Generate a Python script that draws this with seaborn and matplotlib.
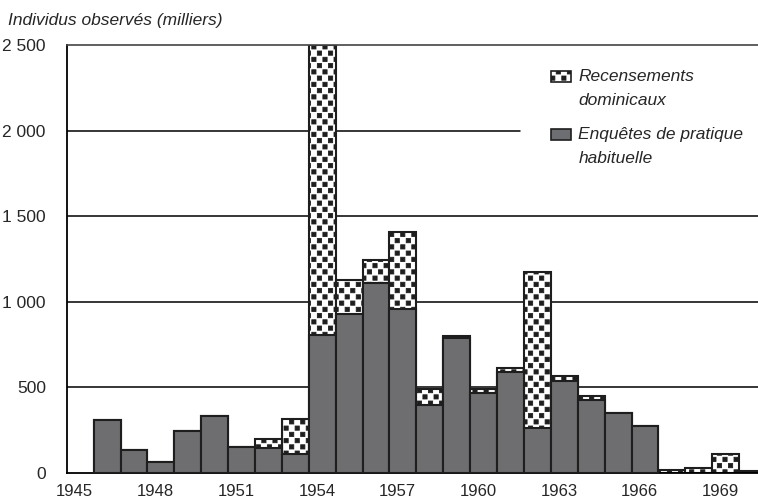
import matplotlib
matplotlib.use("Agg")
import numpy as np
import matplotlib.pyplot as plt
import matplotlib.patches as mpatches
from matplotlib import hatch as mhatch
from matplotlib.path import Path
from matplotlib.legend_handler import HandlerPatch
import seaborn as sns
import pandas as pd

# Data (milliers d'individus observés)
years = list(range(1945, 1971))
pratique = [0, 308, 132, 60, 244, 331, 152, 142, 109, 805, 925, 1107, 955,
            394, 785, 464, 590, 259, 536, 425, 349, 273, 0, 0, 0, 0]
recensements = [0, 0, 0, 0, 0, 0, 0, 53, 207, 1695, 201, 136, 452,
                96, 16, 23, 20, 916, 31, 25, 0, 0, 15, 29, 107, 10]
yticks = [0, 500, 1000, 1500, 2000, 2500]
ytick_labels = ["0", "500", "1 000", "1 500", "2 000", "2 500"]

df = pd.DataFrame({"annee": [str(y) for y in years],
                   "pratique": pratique,
                   "recensements": recensements})
df["total"] = df["pratique"] + df["recensements"]


# '.' hatch -> staggered black squares (like the original print pattern)
class SquareDots(mhatch.HatchPatternBase):
    ncol = 9
    nrow = 16
    half = 0.021

    def __init__(self, hatch, density):
        self.num_vertices = self.ncol * self.nrow * 5 if hatch.count('.') else 0

    def set_vertices_and_codes(self, vertices, codes):
        s = self.half
        k = 0
        for j in range(self.nrow):
            y = (j + 0.5) / self.nrow
            for i in range(self.ncol):
                x = (i + 0.25 + 0.5 * (j % 2)) / self.ncol
                vertices[k:k + 5] = [[x - s, y - s], [x + s, y - s], [x + s, y + s],
                                     [x - s, y + s], [x - s, y - s]]
                codes[k:k + 5] = [Path.MOVETO, Path.LINETO, Path.LINETO,
                                  Path.LINETO, Path.CLOSEPOLY]
                k += 5


mhatch._hatch_types = [h for h in mhatch._hatch_types
                       if h is not mhatch.SmallFilledCircles] + [SquareDots]

sns.set_style("white")
plt.rcParams["font.family"] = ["Liberation Sans Narrow", "Liberation Sans", "DejaVu Sans"]
plt.rcParams["hatch.linewidth"] = 0.6
plt.rcParams["hatch.color"] = "#1a1a1a"

gray = "#6d6e71"
edge = "#1e1e1e"

fig = plt.figure(figsize=(7.58, 4.98), dpi=100)
ax = fig.add_axes([0.088, 0.0508, 0.912, 0.8588])

for v in [500, 1000, 1500]:
    ax.axhline(v, color="black", lw=1.1, zorder=0)
ax.axhline(2000, xmax=0.655, color="black", lw=1.1, zorder=0)

# Total (recensements on top), then gray base
sns.barplot(data=df, x="annee", y="total", color="white", width=1.0,
            edgecolor=edge, linewidth=1.5, hatch=".", ax=ax, zorder=2)
sns.barplot(data=df, x="annee", y="pratique", color=gray, width=1.0,
            edgecolor=edge, linewidth=1.5, ax=ax, zorder=3)
for p in ax.patches:
    if p.get_height() == 0:
        p.set_visible(False)

ax.set_xlim(-0.5, 25.2)
ax.set_ylim(0, 2500)
ax.set_yticks(yticks)
ax.set_yticklabels(ytick_labels, fontsize=12.5)
xt = list(range(0, 26, 3))
ax.set_xticks([i - 0.2 for i in xt])
ax.set_xticklabels([str(years[i]) for i in xt], fontsize=12)
ax.tick_params(axis="y", length=0, pad=15)
ax.tick_params(axis="x", length=0, pad=8)
ax.set_xlabel("")
ax.set_ylabel("")

for s in ["left", "bottom"]:
    ax.spines[s].set_color("black")
    ax.spines[s].set_linewidth(1.3)
ax.spines["top"].set_color("#444444")
ax.spines["top"].set_linewidth(1.2)
ax.spines["right"].set_visible(False)

fig.text(0.011, 0.958, "Individus observés (milliers)", fontsize=12.5,
         style="italic", va="center", ha="left")


def top_patch(legend, orig_handle, xdescent, ydescent, width, height, fontsize):
    # put the key next to the first line of a two-line label
    return mpatches.Rectangle((-xdescent, -ydescent + 0.7 * fontsize), width, height)


h1 = mpatches.Patch(facecolor="white", edgecolor=edge, hatch=".", linewidth=1.2)
h2 = mpatches.Patch(facecolor=gray, edgecolor=edge, linewidth=1.2)
leg = ax.legend([h1, h2], ["Recensements\ndominicaux", "Enquêtes de pratique\nhabituelle"],
                loc="upper left", bbox_to_anchor=(0.70, 0.943), frameon=False,
                prop={"size": 12.5, "style": "italic"},
                handler_map={mpatches.Patch: HandlerPatch(patch_func=top_patch)},
                handlelength=1.2, handleheight=0.6, handletextpad=0.4,
                labelspacing=1.1, borderpad=0, borderaxespad=0)
for t in leg.get_texts():
    t.set_linespacing(1.72)
leg.set_zorder(5)

fig.savefig("out.png", dpi=100)
